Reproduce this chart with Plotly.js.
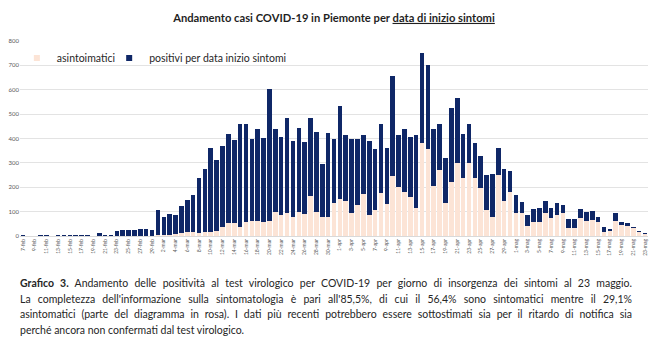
<!DOCTYPE html>
<html>
<head>
<meta charset="utf-8">
<script src="https://cdn.plot.ly/plotly-3.0.1.min.js"></script>
<style>
  html, body { margin: 0; padding: 0; background: #fff; width: 650px; height: 351px; overflow: hidden; }
  #chart { position: absolute; left: 0; top: 0; width: 650px; height: 272px; }
  #caption { position: absolute; left: 20px; top: 276px; width: 612px; font-family: Lato, "Open Sans", sans-serif; font-size: 10.5px; color: #262626; line-height: 15.6px; }
  #caption div { white-space: nowrap; text-align: justify; text-align-last: justify; }
  #caption div.last { text-align-last: left; }
</style>
</head>
<body>
<div id="chart"></div>
<div id="caption">
  <div><b>Grafico 3.</b> Andamento delle positività al test virologico per COVID-19 per giorno di insorgenza dei sintomi al 23 maggio.</div>
  <div>La completezza dell'informazione sulla sintomatologia è pari all'85,5%, di cui il 56,4% sono sintomatici mentre il 29,1%</div>
  <div>asintomatici (parte del diagramma in rosa). I dati più recenti potrebbero essere sottostimati sia per il ritardo di notifica sia</div>
  <div class="last">perché ancora non confermati dal test virologico.</div>
</div>
<script>
const categories = [
  "7-feb","8-feb","9-feb","10-feb","11-feb","12-feb","13-feb","14-feb","15-feb","16-feb","17-feb","18-feb","19-feb","20-feb","21-feb","22-feb","23-feb","24-feb","25-feb","26-feb","27-feb","28-feb","29-feb",
  "1-mar","2-mar","3-mar","4-mar","5-mar","6-mar","7-mar","8-mar","9-mar","10-mar","11-mar","12-mar","13-mar","14-mar","15-mar","16-mar","17-mar","18-mar","19-mar","20-mar","21-mar","22-mar","23-mar","24-mar","25-mar","26-mar","27-mar","28-mar","29-mar","30-mar","31-mar",
  "1-apr","2-apr","3-apr","4-apr","5-apr","6-apr","7-apr","8-apr","9-apr","10-apr","11-apr","12-apr","13-apr","14-apr","15-apr","16-apr","17-apr","18-apr","19-apr","20-apr","21-apr","22-apr","23-apr","24-apr","25-apr","26-apr","27-apr","28-apr","29-apr","30-apr",
  "1-mag","2-mag","3-mag","4-mag","5-mag","6-mag","7-mag","8-mag","9-mag","10-mag","11-mag","12-mag","13-mag","14-mag","15-mag","16-mag","17-mag","18-mag","19-mag","20-mag","21-mag","22-mag","23-mag"
];

// total height of each stacked bar (asintomatici + sintomatici)
const totali = [
  3,0,1,5,5,2,5,4,4,5,3,3,2,12,3,5,20,25,24,25,27,30,25,
  105,78,92,88,125,148,170,237,273,363,313,
  370,419,395,460,460,397,440,401,604,440,405,484,389,444,384,484,427,295,421,397,534,414,397,397,414,388,356,460,360,655,416,440,407,414,
  751,701,438,458,319,527,566,419,460,383,328,250,254,359,275,268,168,141,86,111,113,145,116,137,127,70,68,112,97,104,79,36,27,93,56,52,38,22,14
];

// asymptomatic part (pink, bottom of each bar)
const asintomatici = [
  0,0,0,0,0,0,0,0,0,0,0,0,0,0,0,0,0,0,0,0,0,0,0,
  3,4,6,8,14,15,18,14,15,18,20,
  38,55,52,36,56,60,62,59,63,100,86,93,79,97,90,164,97,79,77,137,151,142,96,127,171,86,107,178,130,248,200,180,158,116,
  383,355,206,270,137,220,301,238,301,236,195,107,79,250,143,182,96,93,41,56,56,93,75,86,93,31,34,72,63,66,56,18,20,63,45,41,31,18,8
];

const positivi = totali.map((t, i) => t - asintomatici[i]);
const tickLabels = categories.filter((c, i) => i % 2 === 0);
const yTicks = [0, 100, 200, 300, 400, 500, 600, 700, 800];

const PINK = "#fce4d6";
const NAVY = "#0f2767";

const traces = [
  { type: "bar", name: "asintoimatici", x: categories, y: asintomatici,
    marker: { color: PINK }, showlegend: false, hoverinfo: "x+y" },
  { type: "bar", name: "positivi per data inizio sintomi", x: categories, y: positivi,
    marker: { color: NAVY }, showlegend: false, hoverinfo: "x+y" },
  { type: "scatter", mode: "markers", name: "asintoimatici", x: [null], y: [null],
    marker: { symbol: "square", size: 6, color: PINK }, legend: "legend" },
  { type: "scatter", mode: "markers", name: "positivi per data inizio sintomi", x: [null], y: [null],
    marker: { symbol: "square", size: 6, color: NAVY }, legend: "legend2" }
];

const legendBase = {
  orientation: "h", xanchor: "left", y: 0.913, yanchor: "middle",
  font: { size: 10.5, color: "#262626" }, bgcolor: "rgba(0,0,0,0)", itemwidth: 30
};

const layout = {
  width: 650, height: 272,
  margin: { l: 20, r: 2, t: 41, b: 36 },
  paper_bgcolor: "#ffffff", plot_bgcolor: "#ffffff",
  barmode: "stack", bargap: 0.22,
  font: { family: "Lato, 'Open Sans', sans-serif", color: "#404040" },
  title: {
    text: '<b>Andamento casi COVID-19 in Piemonte per <span style="text-decoration:underline">data di inizio sintomi</span></b>',
    font: { size: 11.2, color: "#1f1f1f", family: "Lato, 'Open Sans', sans-serif" },
    x: 0.5, xanchor: "center", xref: "paper",
    y: 1 - 18 / 272, yanchor: "middle", yref: "container"
  },
  xaxis: {
    type: "category", range: [-0.5, categories.length - 0.5],
    tickmode: "array", tickvals: tickLabels, ticktext: tickLabels,
    tickangle: -90, tickfont: { size: 5, color: "#595959" },
    showgrid: false, showline: true, linecolor: "#d9d9d9", linewidth: 1,
    ticks: "", fixedrange: true
  },
  yaxis: {
    range: [0, 800], tickmode: "array", tickvals: yTicks,
    tickfont: { size: 6, color: "#595959" },
    showgrid: true, gridcolor: "#e3e3e3", gridwidth: 1,
    zeroline: false, showline: false, ticks: "", fixedrange: true
  },
  legend: Object.assign({}, legendBase, { x: -0.005 }),
  legend2: Object.assign({}, legendBase, { x: 0.142 }),
  showlegend: true
};

Plotly.newPlot("chart", traces, layout, { displayModeBar: false, staticPlot: true });
</script>
</body>
</html>
